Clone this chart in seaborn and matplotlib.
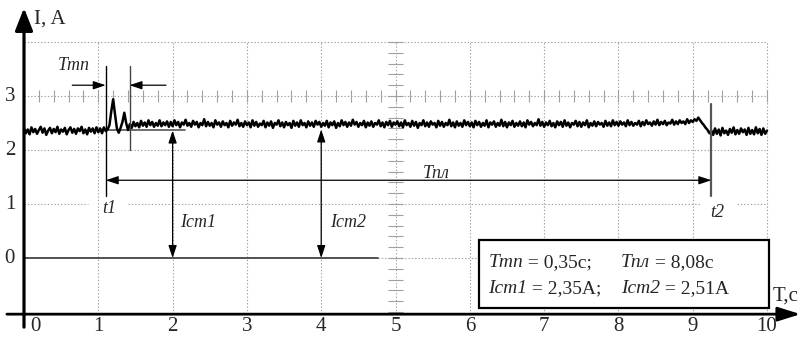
import numpy as np
import matplotlib
matplotlib.use("Agg")
import matplotlib.pyplot as plt
import seaborn as sns

# ток, отсчёты через 0,025 с от 0 до 10 с (по 40 на секунду)
current = [
    # 0 .. 1 c
    2.40, 2.31, 2.38, 2.29, 2.42, 2.33, 2.39, 2.30, 2.37, 2.43,
    2.32, 2.40, 2.28, 2.36, 2.41, 2.31, 2.39, 2.33, 2.43, 2.30,
    2.38, 2.34, 2.41, 2.29, 2.37, 2.42, 2.32, 2.39, 2.30, 2.40,
    2.35, 2.43, 2.31, 2.38, 2.29, 2.41, 2.34, 2.40, 2.31, 2.42,
    # 1 .. 2 c
    2.33, 2.40, 2.31, 2.42, 2.35, 2.38, 2.46, 2.72, 2.94, 2.66,
    2.40, 2.32, 2.41, 2.52, 2.69, 2.50, 2.37, 2.48, 2.41, 2.52,
    2.44, 2.50, 2.42, 2.54, 2.45, 2.51, 2.43, 2.55, 2.46, 2.52,
    2.43, 2.50, 2.45, 2.55, 2.44, 2.51, 2.46, 2.53, 2.43, 2.52,
    # 2 .. 3 c
    2.44, 2.55, 2.46, 2.52, 2.42, 2.51, 2.47, 2.56, 2.45, 2.50,
    2.43, 2.54, 2.47, 2.52, 2.42, 2.50, 2.46, 2.57, 2.44, 2.52,
    2.45, 2.50, 2.42, 2.55, 2.47, 2.51, 2.43, 2.53, 2.46, 2.50,
    2.42, 2.54, 2.45, 2.51, 2.47, 2.56, 2.44, 2.50, 2.43, 2.53,
    # 3 .. 4 c
    2.46, 2.51, 2.42, 2.55, 2.45, 2.52, 2.43, 2.49, 2.46, 2.54,
    2.42, 2.51, 2.45, 2.53, 2.41, 2.50, 2.47, 2.55, 2.44, 2.51,
    2.42, 2.52, 2.46, 2.50, 2.41, 2.54, 2.45, 2.51, 2.43, 2.55,
    2.46, 2.50, 2.42, 2.53, 2.45, 2.51, 2.43, 2.54, 2.47, 2.52,
    # 4 .. 5 c
    2.43, 2.50, 2.45, 2.54, 2.42, 2.51, 2.46, 2.53, 2.41, 2.50,
    2.44, 2.55, 2.46, 2.52, 2.43, 2.51, 2.45, 2.56, 2.47, 2.52,
    2.43, 2.50, 2.46, 2.54, 2.42, 2.51, 2.45, 2.53, 2.43, 2.50,
    2.47, 2.55, 2.44, 2.51, 2.42, 2.52, 2.46, 2.54, 2.43, 2.51,
    # 5 .. 6 c
    2.47, 2.53, 2.44, 2.51, 2.42, 2.55, 2.46, 2.50, 2.43, 2.54,
    2.45, 2.52, 2.41, 2.50, 2.46, 2.55, 2.44, 2.51, 2.43, 2.53,
    2.47, 2.50, 2.42, 2.54, 2.45, 2.52, 2.43, 2.50, 2.46, 2.56,
    2.44, 2.51, 2.42, 2.53, 2.45, 2.50, 2.43, 2.55, 2.46, 2.52,
    # 6 .. 7 c
    2.44, 2.51, 2.42, 2.54, 2.46, 2.52, 2.43, 2.50, 2.45, 2.55,
    2.42, 2.51, 2.47, 2.53, 2.43, 2.50, 2.45, 2.56, 2.44, 2.52,
    2.42, 2.51, 2.46, 2.54, 2.43, 2.50, 2.45, 2.53, 2.44, 2.51,
    2.42, 2.55, 2.47, 2.52, 2.44, 2.50, 2.46, 2.57, 2.45, 2.52,
    # 7 .. 8 c
    2.43, 2.51, 2.46, 2.54, 2.44, 2.50, 2.42, 2.53, 2.46, 2.52,
    2.43, 2.55, 2.45, 2.51, 2.42, 2.50, 2.47, 2.54, 2.44, 2.52,
    2.43, 2.51, 2.46, 2.55, 2.42, 2.50, 2.45, 2.53, 2.44, 2.52,
    2.47, 2.50, 2.43, 2.54, 2.45, 2.51, 2.44, 2.55, 2.46, 2.52,
    # 8 .. 9 c
    2.45, 2.53, 2.47, 2.51, 2.44, 2.55, 2.46, 2.52, 2.45, 2.50,
    2.47, 2.54, 2.44, 2.52, 2.46, 2.55, 2.48, 2.51, 2.45, 2.53,
    2.47, 2.56, 2.46, 2.52, 2.48, 2.54, 2.46, 2.51, 2.49, 2.56,
    2.47, 2.53, 2.48, 2.55, 2.50, 2.53, 2.48, 2.57, 2.50, 2.55,
    # 9 .. 10 c
    2.52, 2.57, 2.54, 2.60, 2.55, 2.50, 2.46, 2.41, 2.37, 2.31,
    2.36, 2.28, 2.40, 2.30, 2.38, 2.27, 2.41, 2.31, 2.36, 2.28,
    2.39, 2.32, 2.42, 2.29, 2.37, 2.30, 2.40, 2.33, 2.38, 2.28,
    2.41, 2.30, 2.37, 2.29, 2.42, 2.31, 2.39, 2.28, 2.40, 2.30,
    2.36,
]
time = np.linspace(0, 10, len(current))

x_ticks = [1, 2, 3, 4, 5, 6, 7, 8, 9, 10]
y_ticks = [0, 1, 2, 3]
grid_rows = [2, 3, 4]

t1 = 1.1       # начало
t_tp = 1.42    # конец переходного процесса
t2 = 9.25      # конец
i_st1_tip = 2.36
i_st2_tip = 2.38

box_lines = [
    [("Tтп", " = 0,35с;"), ("Tпл", " = 8,08с")],
    [("Iст1", " = 2,35A;"), ("Iст2", " = 2,51A")],
]

sns.set_style("white")
plt.rcParams['font.family'] = ['Liberation Serif', 'DejaVu Serif']

fig = plt.figure(figsize=(8.05, 3.4), dpi=100)
ax = fig.add_axes([0, 0, 1, 1])
ax.set_xlim(-0.323, 10.511)
ax.set_ylim(-1.5185, 4.778)
ax.axis('off')

x_axis_y = -1.04
grid_kw = dict(color='#a0a0a0', lw=0.8, ls=(0, (1.2, 1.8)), zorder=1)

# сетка
for x in x_ticks:
    ax.plot([x, x], [x_axis_y, 4.0], **grid_kw)
for y in grid_rows:
    ax.plot([0, 10], [y, y], **grid_kw)
ax.plot([0, 0.86], [1, 1], **grid_kw)
ax.plot([1.4, 9.1], [1, 1], **grid_kw)
ax.plot([9.6, 10], [1, 1], **grid_kw)
ax.plot([4.76, 10], [0, 0], **grid_kw)

# мелкие деления
ax.vlines(np.arange(0.2, 10.01, 0.2), 3 - 0.11, 3 + 0.11, color='#a0a0a0', lw=0.8, zorder=1)
ax.hlines(np.arange(-1.0, 4.01, 0.2), 5 - 0.095, 5 + 0.095, color='#a0a0a0', lw=0.8, zorder=1)

# сигнал
sns.lineplot(x=time, y=current, ax=ax, color='black', linewidth=1.8,
             estimator=None, zorder=3)
ax.axis('off')

# оси
ax.annotate('', xy=(0, 4.63), xytext=(0, -1.28),
            arrowprops=dict(arrowstyle='-|>,head_length=1.37,head_width=0.54',
                            mutation_scale=10, lw=2.3, color='black',
                            shrinkA=0, shrinkB=0))
ax.annotate('', xy=(10.45, x_axis_y), xytext=(-0.23, x_axis_y),
            arrowprops=dict(arrowstyle='-|>,head_length=1.37,head_width=0.43',
                            mutation_scale=10, lw=2.0, color='black',
                            shrinkA=0, shrinkB=0))

# вспомогательные линии
ax.plot([0, 4.76], [0, 0], color='#333333', lw=1.2, zorder=2)
ax.plot([t1, t1], [1.15, 3.55], color='black', lw=1.0, zorder=4)
ax.plot([t_tp, t_tp], [2.0, 3.55], color='#444444', lw=1.0, zorder=4)
ax.plot([t2, t2], [1.15, 2.85], color='#555555', lw=1.6, zorder=4)
ax.plot([t1, 2.17], [2.37, 2.37], color='#555555', lw=1.2, zorder=2)


def arrow(xy, xytext, style='-|>'):
    ax.annotate('', xy=xy, xytext=xytext,
                arrowprops=dict(arrowstyle=style + ',head_length=0.75,head_width=0.25',
                                mutation_scale=10, lw=0.9, color='black',
                                shrinkA=0, shrinkB=0), zorder=4)


arrow((t1, 3.2), (0.65, 3.2))
arrow((t_tp, 3.2), (1.91, 3.2))
arrow((t2, 1.44), (t1, 1.44), '<|-|>')
arrow((2, i_st1_tip), (2, 0), '<|-|>')
arrow((4, i_st2_tip), (4, 0), '<|-|>')

# подписи
lab = dict(fontsize=13, style='italic', va='center', zorder=5)
ax.text(0.46, 3.56, "Tтп", ha='left', **lab)
ax.text(5.37, 1.56, "Tпл", ha='left', **lab)
ax.text(1.14, 0.91, "t1", ha='center', **lab)
ax.text(9.33, 0.85, "t2", ha='center', **lab)
ax.text(2.10, 0.65, "Iст1", ha='left', **lab)
ax.text(4.12, 0.65, "Iст2", ha='left', **lab)

# деления осей
for x in x_ticks:
    ax.text(x, -1.26, str(x), fontsize=15, ha='center', va='center')
ax.text(0.15, -1.26, "0", fontsize=15, ha='center', va='center')
for y in y_ticks:
    ax.text(-0.19, y, str(y), fontsize=15, ha='center', va='center')
ax.text(0.135, 4.43, "I, A", fontsize=15, ha='left', va='center')
ax.text(10.08, -0.70, "T,с", fontsize=15, ha='left', va='center')

# рамка с результатами
ax.add_patch(plt.Rectangle((6.12, -0.93), 3.91, 1.26, facecolor='white',
                           edgecolor='black', lw=1.6, zorder=6))
col_x = [6.25, 8.03]
row_y = [-0.09, -0.56]
for r, line in enumerate(box_lines):
    for c, (name, rest) in enumerate(line):
        tx = ax.text(col_x[c], row_y[r], name, fontsize=14, style='italic',
                     ha='left', va='center', zorder=7)
        ax.annotate(rest, xy=(1, 0), xycoords=tx, fontsize=14,
                    ha='left', va='bottom', zorder=7)

fig.savefig("out.png", dpi=100)
